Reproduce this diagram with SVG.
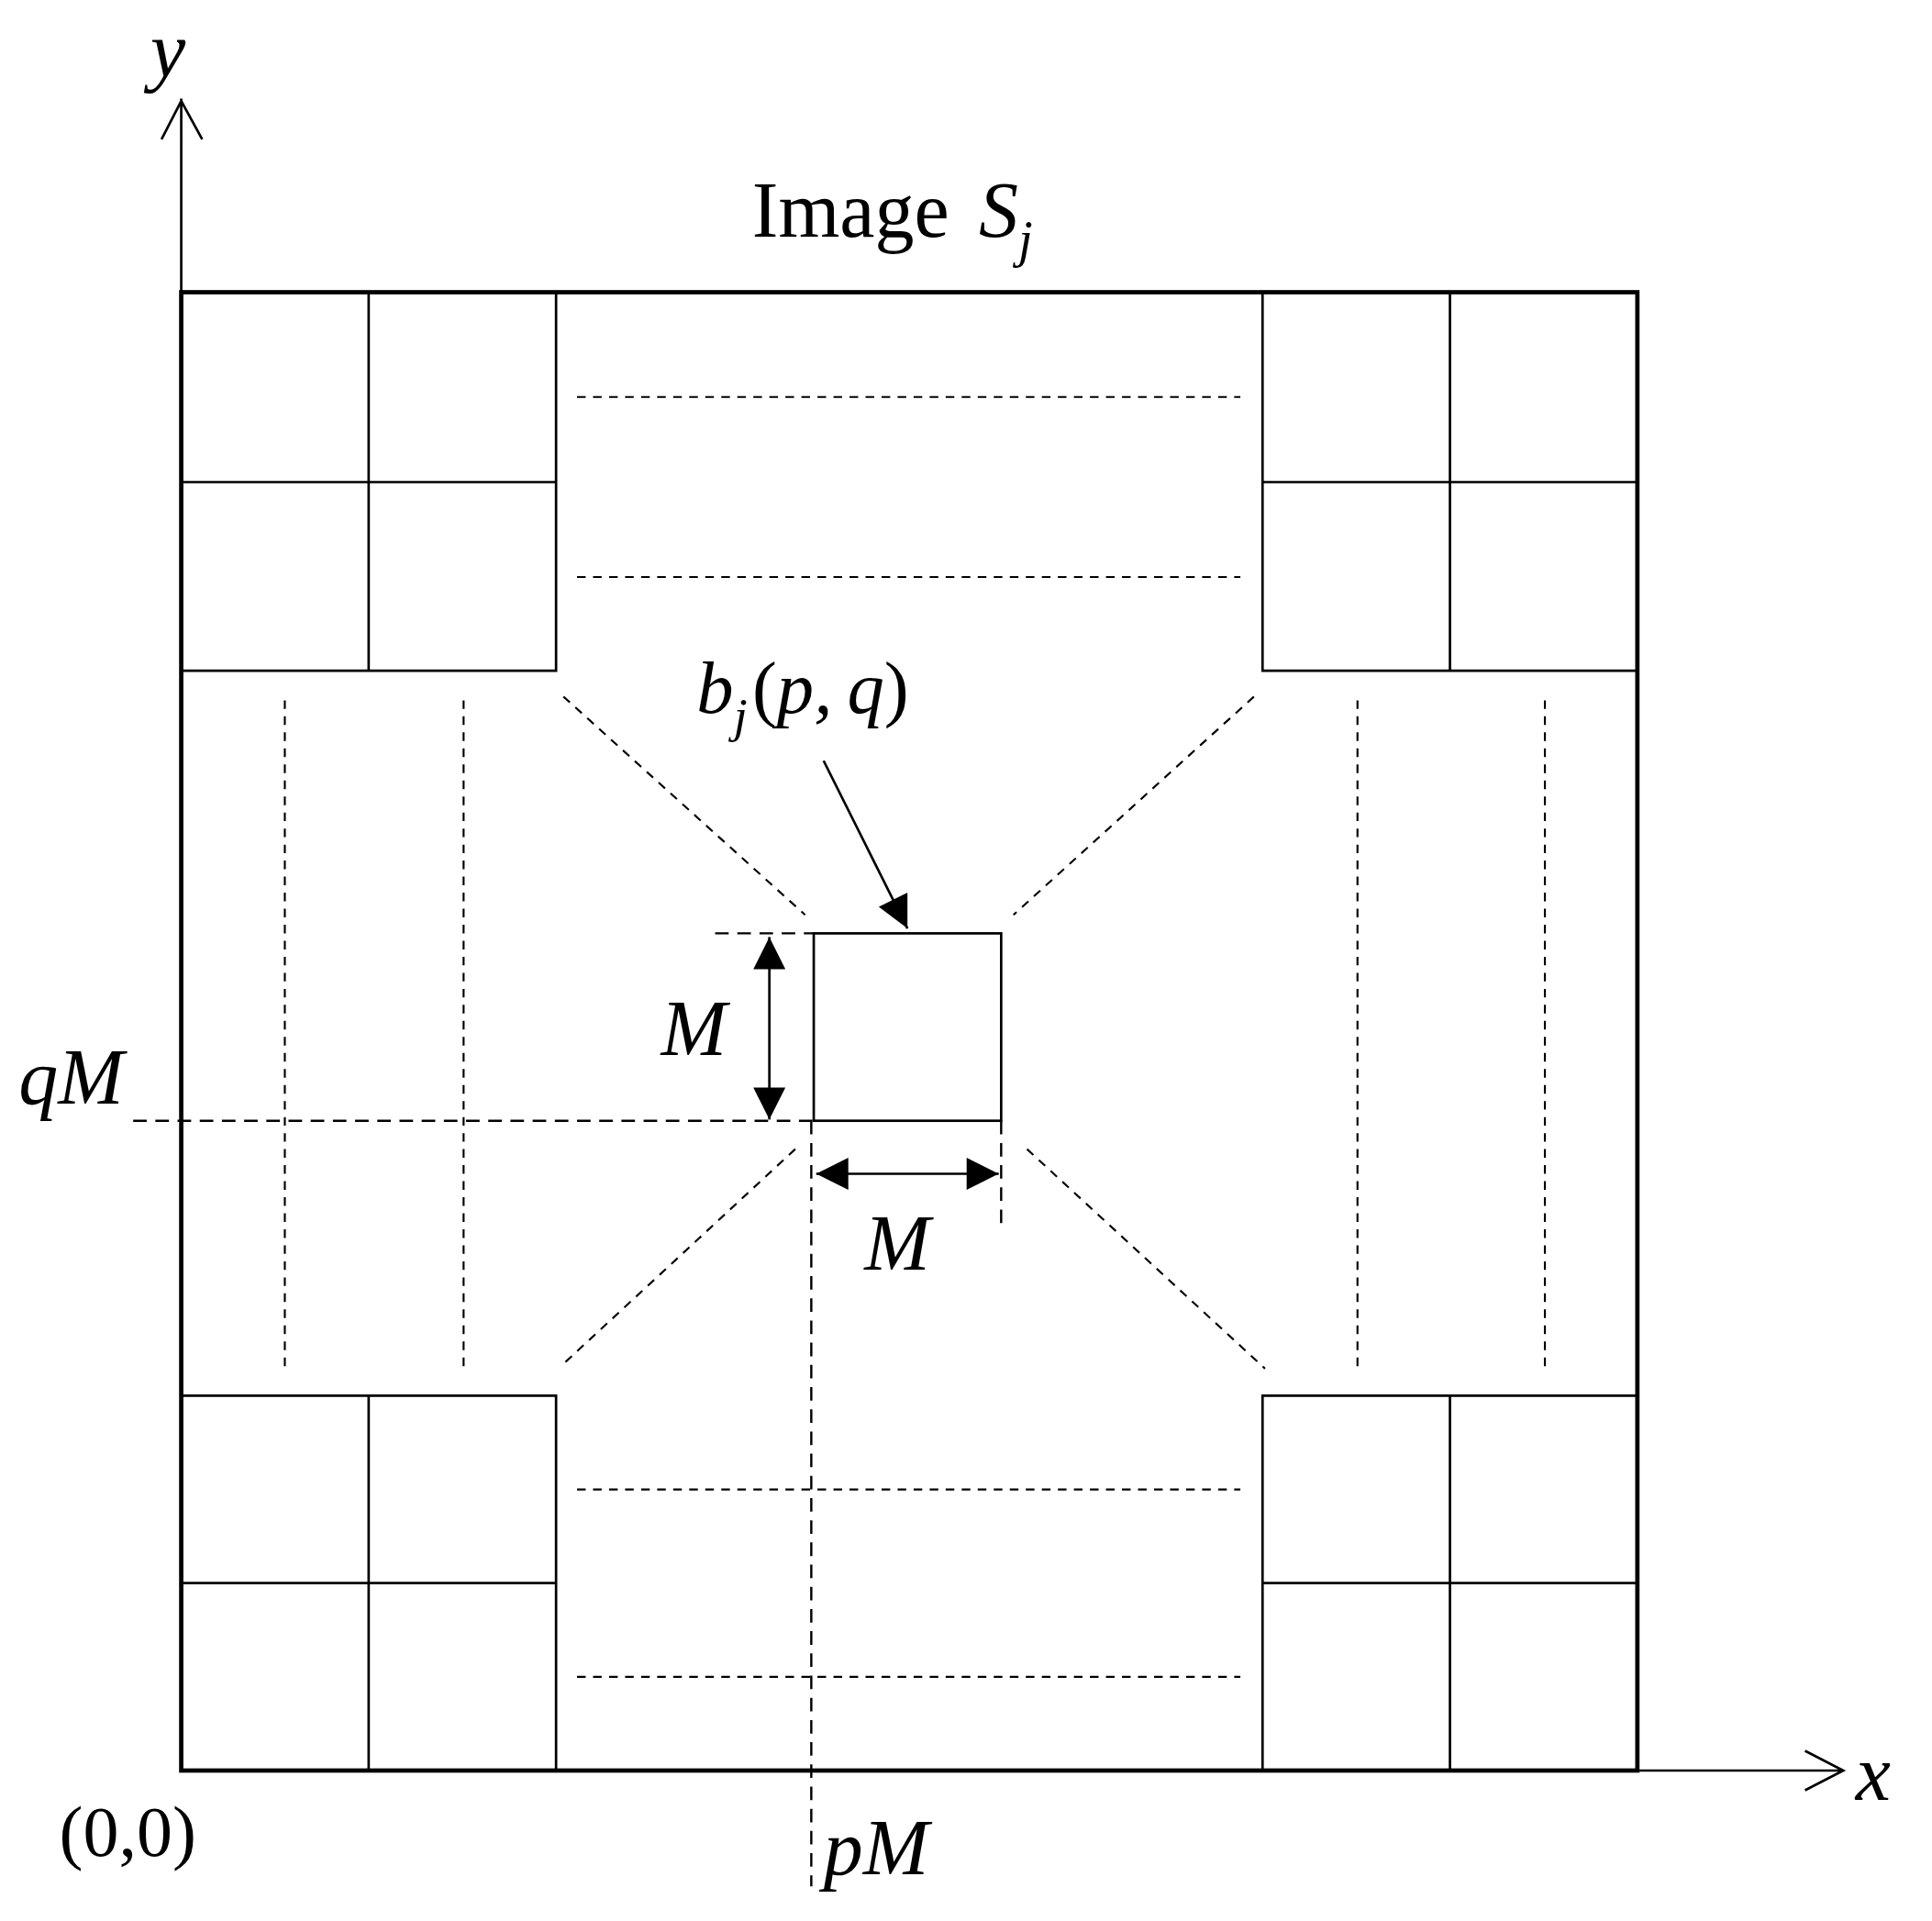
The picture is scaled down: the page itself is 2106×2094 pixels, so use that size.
<svg xmlns="http://www.w3.org/2000/svg" width="2106" height="2094" viewBox="0 0 2106 2094">
<defs>
<style>
.s{stroke:#000;stroke-width:2;fill:none}
.d{stroke:#000;stroke-width:1.6;fill:none;stroke-dasharray:7 6}
.D{stroke:#000;stroke-width:1.8;fill:none;stroke-dasharray:11 7}
.t{font-family:"Liberation Serif",serif;fill:#000}
.i{font-style:italic}
</style>
<marker id="f" viewBox="0 0 10 10" refX="10" refY="5" markerWidth="30" markerHeight="26" markerUnits="userSpaceOnUse" orient="auto-start-reverse"><path d="M0,0 L10,5 L0,10 z" fill="#000"/></marker>
</defs>
<rect width="2106" height="2094" fill="#fff"/>
<g transform="scale(1.344)">
<g id="axes">
<path class="s" d="M147,237 V80 M131,113 L147,82 L164,113"/>
<path class="s" d="M1328,1436 H1495 M1464,1420 L1495,1436 L1464,1452"/>
<text class="t i" x="122" y="62" font-size="64">y</text>
<text class="t i" x="1505" y="1460" font-size="64">x</text>
<text class="t" x="48" y="1505" font-size="58">(0,0)</text>
</g>
<g id="image">
<rect x="147" y="237" width="1181" height="1199" fill="none" stroke="#000" stroke-width="3.5"/>
<text class="t" x="610" y="192" font-size="64">Image <tspan class="i" dx="8">S</tspan><tspan class="i" font-size="42" dy="16">j</tspan></text>
</g>
<g id="blocks">
<path class="s" d="M147,544 H451 V237 M299,237 V544 M147,391 H451"/>
<path class="s" d="M1328,544 H1024 V237 M1176,237 V544 M1024,391 H1328"/>
<path class="s" d="M147,1132 H451 V1436 M299,1132 V1436 M147,1284 H451"/>
<path class="s" d="M1328,1132 H1024 V1436 M1176,1132 V1436 M1024,1284 H1328"/>
</g>
<g id="dashes">
<path class="d" d="M468,322 H1006 M468,468 H1006 M468,1208 H1006 M468,1360 H1006"/>
<path class="d" d="M231,568 V1108 M376,568 V1108 M1101,568 V1108 M1253,568 V1108"/>
<path class="d" d="M457,565 L653,742 M1017,565 L822,742 M645,932 L455,1108 M833,932 L1026,1110"/>
</g>
<g id="block-pq">
<rect x="660" y="757" width="152" height="152" class="s"/>
<text class="t i" x="565" y="578" font-size="60">b<tspan font-size="40" dy="16">j</tspan><tspan dy="-16" dx="4" font-style="normal">(</tspan>p,<tspan dx="12">q</tspan><tspan font-style="normal">)</tspan></text>
</g>
<g id="connectors">
<path class="D" d="M108,909 H660 M658,909 V1530 M580,757 H660 M812,909 V992"/>
<path class="s" d="M624,760 V908" stroke-width="2.5" marker-start="url(#f)" marker-end="url(#f)"/>
<path class="s" d="M662,952 H810" stroke-width="2.5" marker-start="url(#f)" marker-end="url(#f)"/>
<path class="s" d="M668,617 L736,753" stroke-width="3" marker-end="url(#f)"/>
<text class="t i" x="536" y="856" font-size="64">M</text>
<text class="t i" x="701" y="1030" font-size="64">M</text>
<text class="t i" x="15" y="895" font-size="64">qM</text>
<text class="t i" x="668" y="1520" font-size="64">pM</text>
</g>
</g>
</svg>
